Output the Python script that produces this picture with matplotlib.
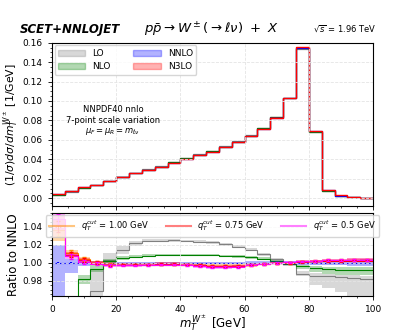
import numpy as np
import matplotlib
matplotlib.use("Agg")
import matplotlib.pyplot as plt
from matplotlib.patches import Patch
from matplotlib.lines import Line2D
from matplotlib.ticker import MultipleLocator

# bin edges of m_T^W [GeV]
edges = [0, 4, 8, 12, 16, 20, 24, 28, 32, 36, 40, 44, 48, 52, 56, 60, 64, 68, 72, 76, 80, 84, 88, 92, 96, 100]

# normalised NNLO distribution [1/GeV]
nnlo_dist = [0.0041, 0.0076, 0.0111, 0.0139, 0.0179, 0.0220, 0.0255, 0.0289, 0.0323, 0.0365,
             0.0406, 0.0441, 0.0478, 0.0526, 0.0578, 0.0640, 0.0715, 0.0830, 0.1030, 0.1550,
             0.0690, 0.0080, 0.0028, 0.0013, 0.0007]

# ratios to NNLO (central, band low, band high)
lo_ratio = [0.750, 0.880, 0.940, 0.969, 1.003, 1.0145, 1.0215, 1.0245, 1.0245, 1.025,
            1.024, 1.0235, 1.0225, 1.0205, 1.018, 1.0145, 1.0095, 1.004, 0.999, 0.988,
            0.9855, 0.985, 0.984, 0.983, 0.982]
lo_low = [0.700, 0.850, 0.920, 0.963, 0.997, 1.010, 1.019, 1.0225, 1.023, 1.0235,
          1.0225, 1.022, 1.021, 1.019, 1.0165, 1.013, 1.008, 1.002, 0.996, 0.985,
          0.975, 0.972, 0.968, 0.963, 0.960]
lo_high = [0.800, 0.910, 0.955, 0.992, 1.011, 1.019, 1.024, 1.026, 1.026, 1.0265,
           1.0255, 1.025, 1.024, 1.022, 1.0195, 1.016, 1.011, 1.0055, 1.000, 0.991,
           0.989, 0.988, 0.987, 0.986, 0.985]

nlo_ratio = [0.900, 0.950, 0.982, 0.9935, 1.0025, 1.005, 1.0067, 1.008, 1.009, 1.009,
             1.0088, 1.0085, 1.0082, 1.0078, 1.0072, 1.0062, 1.0045, 1.002, 0.999, 0.996,
             0.9937, 0.9928, 0.9925, 0.992, 0.9918]
nlo_low = [0.880, 0.940, 0.977, 0.990, 1.000, 1.003, 1.005, 1.0067, 1.0077, 1.0078,
           1.0076, 1.0073, 1.007, 1.0065, 1.0058, 1.0047, 1.003, 1.0005, 0.997, 0.993,
           0.990, 0.988, 0.987, 0.9865, 0.986]
nlo_high = [0.920, 0.960, 0.9865, 0.997, 1.0045, 1.007, 1.0083, 1.0093, 1.0102, 1.0102,
            1.010, 1.0097, 1.0094, 1.009, 1.0085, 1.0076, 1.006, 1.0035, 1.001, 0.998,
            0.996, 0.9955, 0.995, 0.995, 0.995]

nnlo_low = [0.900, 0.9885, 0.996, 0.998, 0.999, 0.999, 0.999, 0.999, 0.999, 0.999,
            0.999, 0.999, 0.999, 0.999, 0.9988, 0.9985, 0.9985, 0.9985, 0.998, 0.998,
            0.9975, 0.997, 0.997, 0.9965, 0.996]
nnlo_high = [1.020, 1.004, 1.002, 1.0015, 1.001, 1.001, 1.001, 1.001, 1.001, 1.001,
             1.001, 1.001, 1.001, 1.001, 1.0012, 1.0015, 1.0015, 1.0015, 1.002, 1.002,
             1.0025, 1.003, 1.003, 1.0035, 1.004]

# N3LO for three q_T^cut values
qt_labels = ["1.00 GeV", "0.75 GeV", "0.5 GeV"]
n3lo_q100 = [1.036, 1.011, 1.004, 1.0005, 0.9985, 0.998, 0.998, 0.998, 0.998, 0.998,
             0.998, 0.9975, 0.9965, 0.9965, 0.997, 0.997, 0.999, 0.9995, 1.000, 1.0015,
             1.002, 1.003, 1.003, 1.0035, 1.0035]
n3lo_q075 = [1.040, 1.009, 1.003, 1.000, 0.998, 0.998, 0.998, 0.998, 0.999, 0.999,
             0.998, 0.9975, 0.996, 0.996, 0.9965, 0.998, 0.9985, 0.9995, 1.000, 1.001,
             1.0015, 1.002, 1.002, 1.0025, 1.0025]
n3lo_q050 = [1.048, 1.007, 1.001, 0.999, 0.997, 0.997, 0.997, 0.9975, 0.998, 0.998,
             0.9975, 0.996, 0.995, 0.995, 0.9955, 0.9975, 0.9985, 1.000, 1.0005, 1.0015,
             1.002, 1.003, 1.003, 1.0035, 1.0035]
n3lo_unc = [0.012, 0.003, 0.0025, 0.002, 0.002, 0.0018, 0.0015, 0.0015, 0.0015, 0.0015,
            0.0015, 0.0015, 0.0018, 0.0018, 0.0015, 0.0015, 0.0012, 0.0012, 0.0012, 0.0012,
            0.0012, 0.0015, 0.0015, 0.0018, 0.0018]
n3lo_stat = [0.006, 0.003, 0.0025, 0.0015, 0.0012, 0.001, 0.001, 0.001, 0.001, 0.001,
             0.001, 0.001, 0.001, 0.001, 0.001, 0.001, 0.0008, 0.0008, 0.0008, 0.0008,
             0.0008, 0.001, 0.001, 0.001, 0.001]

edges = np.array(edges, dtype=float)
centers = 0.5 * (edges[1:] + edges[:-1])
dist = np.array(nnlo_dist)

lo_col, nlo_col, nnlo_col, n3lo_col = "gray", "green", "blue", "red"
qt_cols = ["darkorange", "red", "magenta"]

fig = plt.figure(figsize=(4.15, 3.32), dpi=100)
ax = fig.add_axes([0.125, 0.3795, 0.774, 0.492])
rax = fig.add_axes([0.125, 0.1093, 0.774, 0.250], sharex=ax)

# --- top panel: distributions
for ratio, low, high, col in [(lo_ratio, lo_low, lo_high, lo_col),
                              (nlo_ratio, nlo_low, nlo_high, nlo_col),
                              ([1.0] * 25, nnlo_low, nnlo_high, nnlo_col)]:
    ax.stairs(dist * np.array(high), edges, baseline=dist * np.array(low),
              fill=True, color=col, alpha=0.3, lw=0)
    ax.stairs(dist * np.array(ratio), edges, color=col, lw=0.9, baseline=None)
n3 = dist * np.array(n3lo_q075)
ax.stairs(n3 + dist * np.array(n3lo_unc), edges, baseline=n3 - dist * np.array(n3lo_unc),
          fill=True, color=n3lo_col, alpha=0.3, lw=0)
ax.stairs(n3, edges, color=n3lo_col, lw=1.0, baseline=None)

ax.set_ylim(-0.008, 0.16)
ax.set_xlim(0, 100)
ax.yaxis.set_major_locator(MultipleLocator(0.02))
ax.yaxis.set_minor_locator(MultipleLocator(0.005))
ax.xaxis.set_minor_locator(MultipleLocator(5))
ax.tick_params(labelbottom=False, labelsize=6.5, length=3, width=0.6)
ax.tick_params(which="minor", length=1.5, width=0.5)
ax.grid(True, color="#e4e4e4", lw=0.6, ls="--")
ax.set_ylabel(r"$(1/\sigma)d\sigma/dm_T^{W^\pm}$ [1/GeV]", fontsize=7.8, labelpad=2)

handles = [Patch(color=lo_col, alpha=0.3, label="LO"), Patch(color=nlo_col, alpha=0.3, label="NLO"),
           Patch(color=nnlo_col, alpha=0.3, label="NNLO"), Patch(color=n3lo_col, alpha=0.3, label="N3LO")]
ax.legend(handles=handles, ncol=2, loc="upper left", fontsize=6.5, handlelength=3,
          columnspacing=2.5, borderaxespad=0.3, framealpha=0.8)
ax.text(0.19, 0.52, "NNPDF40 nnlo\n7-point scale variation\n" + r"$\mu_F = \mu_R = m_{\ell\nu}$",
        transform=ax.transAxes, ha="center", va="center", fontsize=6, linespacing=1.2)

# --- ratio panel
rax.stairs(lo_high, edges, baseline=lo_low, fill=True, color=lo_col, alpha=0.3, lw=0)
rax.stairs(lo_ratio, edges, color=lo_col, lw=0.8, baseline=None)
rax.stairs(nlo_high, edges, baseline=nlo_low, fill=True, color=nlo_col, alpha=0.3, lw=0)
rax.stairs(nlo_ratio, edges, color=nlo_col, lw=0.8, baseline=None)
rax.stairs(nnlo_high, edges, baseline=nnlo_low, fill=True, color=nnlo_col, alpha=0.3, lw=0)
rax.stairs([1.0] * 25, edges, color=nnlo_col, lw=0.8, baseline=None)
rax.errorbar(centers[:2], [1.0, 1.0], yerr=[0.0006, 0.0006], fmt="none", ecolor=nnlo_col, lw=1.5)

unc = np.array(n3lo_unc)
for vals, col in zip([n3lo_q100, n3lo_q075, n3lo_q050], qt_cols):
    vals = np.array(vals)
    rax.stairs(vals + unc, edges, baseline=vals - unc, fill=True, color=col, alpha=0.35, lw=0)
    rax.stairs(vals, edges, color=col, lw=0.8, baseline=None)
    rax.errorbar(centers, vals, yerr=n3lo_stat, fmt="none", ecolor=col, lw=0.8, capsize=1.5)

rax.set_ylim(0.9635, 1.0555)
rax.set_xlim(0, 100)
rax.yaxis.set_major_locator(MultipleLocator(0.02))
rax.yaxis.set_minor_locator(MultipleLocator(0.005))
rax.xaxis.set_major_locator(MultipleLocator(20))
rax.xaxis.set_minor_locator(MultipleLocator(5))
rax.tick_params(labelsize=6.5, length=3, width=0.6)
rax.tick_params(which="minor", length=1.5, width=0.5)
rax.grid(True, color="#e4e4e4", lw=0.6, ls="--")
rax.set_ylabel("Ratio to NNLO", fontsize=8.5, labelpad=2)
rax.set_xlabel(r"$m_T^{W^\pm}$ [GeV]", fontsize=8.5, labelpad=0)

qt_handles = [Line2D([], [], color=c, alpha=0.5, lw=1.5, label=r"$q_T^{cut}$ = " + l)
              for c, l in zip(qt_cols, qt_labels)]
rax.legend(handles=qt_handles, ncol=3, loc="upper center", fontsize=6, handlelength=3,
           columnspacing=2.0, borderaxespad=0.3, framealpha=0.8)

# --- titles
fig.text(0.048, 0.90, "SCET+NNLOJET", fontsize=8.5, fontweight="bold", fontstyle="italic")
fig.text(0.51, 0.90, r"$p\bar{p}\to W^\pm(\to \ell\nu)\ +\ X$", fontsize=9.5, ha="center")
fig.text(0.908, 0.90, r"$\sqrt{s}$ = 1.96 TeV", fontsize=6, ha="right")

fig.savefig("out.png", dpi=100)
